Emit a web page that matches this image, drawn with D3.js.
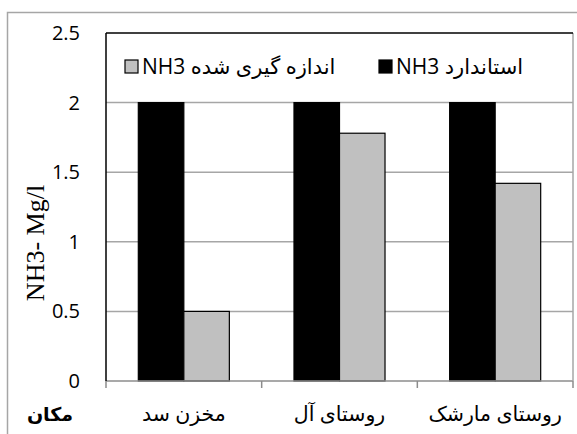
<!DOCTYPE html>
<html>
<head>
<meta charset="utf-8">
<script src="https://cdn.jsdelivr.net/npm/d3@7"></script>
<style>
body { margin: 0; background: #fff; }
</style>
</head>
<body>
<svg width="577" height="434"></svg>
<script>
var svg = d3.select('svg')

var categories = ["مخزن سد", "روستای آل", "روستای مارشک"]
var standard = [2, 2, 2]
var measured = [0.5, 1.78, 1.42]
var seriesNames = ["استاندارد NH3", "اندازه گیری شده NH3"]
var yTicks = [0, 0.5, 1, 1.5, 2, 2.5]

var plotLeft = 106, plotRight = 573, plotTop = 33, plotBottom = 381
var gridColor = '#a6a6a6'
var sans = '"Open Sans", "DejaVu Sans", sans-serif'

var x = d3.scaleBand().domain(categories).range([plotLeft, plotRight])
var x1 = d3.scaleBand().domain([0, 1]).range([0, x.bandwidth()]).paddingOuter(0.71)
var y = d3.scaleLinear().domain([0, 2.5]).range([plotBottom, plotTop])

//outer frame
svg.append('rect')
	.attr('x', 7.5).attr('y', 12.5)
	.attr('width', 600).attr('height', 500)
	.attr('fill', 'none').attr('stroke', gridColor).attr('stroke-width', 1.5)

//gridlines
svg.selectAll('line.grid')
	.data(yTicks.filter(function(d) { return d > 0 && d < 2.5 }))
	.enter().append('line')
	.attr('x1', plotLeft).attr('x2', plotRight)
	.attr('y1', function(d) { return y(d) }).attr('y2', function(d) { return y(d) })
	.attr('stroke', gridColor).attr('stroke-width', 1.5)

//tick labels
svg.selectAll('text.ytick')
	.data(yTicks)
	.enter().append('text')
	.attr('x', 80)
	.attr('y', function(d) { return y(d) + 7 })
	.attr('text-anchor', 'end')
	.attr('font-family', sans)
	.attr('font-size', 20)
	.text(function(d) { return d })

//bars
var rows = categories.map(function(c, i) { return {cat: c, vals: [standard[i], measured[i]]} })
var groups = svg.selectAll('g.cat')
	.data(rows)
	.enter().append('g')
	.attr('transform', function(d) { return 'translate(' + x(d.cat) + ',0)' })
groups.selectAll('rect')
	.data(function(d) { return d.vals })
	.enter().append('rect')
	.attr('x', function(d, i) { return x1(i) })
	.attr('y', function(d) { return y(d) })
	.attr('width', x1.bandwidth())
	.attr('height', function(d) { return plotBottom - y(d) })
	.attr('fill', function(d, i) { return i == 0 ? '#000' : '#c0c0c0' })
	.attr('stroke', '#000').attr('stroke-width', 1.2)

//axis lines
svg.append('line').attr('x1', plotLeft).attr('x2', plotRight).attr('y1', plotBottom).attr('y2', plotBottom)
	.attr('stroke', '#8c8c8c').attr('stroke-width', 1.5)
svg.selectAll('line.xtick')
	.data(categories.map(function(c) { return x(c) }).concat([plotRight]))
	.enter().append('line')
	.attr('x1', function(d) { return d }).attr('x2', function(d) { return d })
	.attr('y1', plotBottom).attr('y2', plotBottom + 7)
	.attr('stroke', '#8c8c8c').attr('stroke-width', 1.5)
svg.append('line').attr('x1', plotRight).attr('x2', plotRight).attr('y1', plotTop).attr('y2', plotBottom)
	.attr('stroke', gridColor).attr('stroke-width', 1.5)
svg.append('line').attr('x1', plotLeft).attr('x2', plotRight).attr('y1', plotTop).attr('y2', plotTop)
	.attr('stroke', '#000').attr('stroke-width', 1.5)
svg.append('line').attr('x1', plotLeft).attr('x2', plotLeft).attr('y1', plotTop).attr('y2', plotBottom)
	.attr('stroke', '#000').attr('stroke-width', 1.5)

//category labels
svg.selectAll('text.xlab')
	.data(categories)
	.enter().append('text')
	.attr('x', function(d) { return x(d) + x.bandwidth()/2 })
	.attr('y', 421)
	.attr('text-anchor', 'middle')
	.attr('font-family', sans)
	.attr('font-size', 20.5)
	.text(function(d) { return d })

svg.append('text')
	.attr('x', 50).attr('y', 421)
	.attr('text-anchor', 'middle')
	.attr('font-family', sans)
	.attr('font-size', 19)
	.attr('font-weight', 'bold')
	.text('مکان')

//y title
svg.append('text')
	.attr('transform', 'translate(44,243) rotate(-90)')
	.attr('text-anchor', 'middle')
	.attr('font-family', '"Liberation Serif", "Times New Roman", serif')
	.attr('font-size', 26)
	.text('NH3- Mg/l')

//legend
var legendX = [379, 125]
var legend = svg.selectAll('g.legend')
	.data(seriesNames)
	.enter().append('g')
	.attr('transform', function(d, i) { return 'translate(' + legendX[i] + ',60)' })
legend.append('rect')
	.attr('width', 13).attr('height', 13)
	.attr('fill', function(d, i) { return i == 0 ? '#000' : '#c0c0c0' })
	.attr('stroke', '#000').attr('stroke-width', 1.2)
legend.append('text')
	.attr('x', 17).attr('y', 14)
	.attr('font-family', sans)
	.attr('font-size', 21)
	.attr('direction', 'rtl')
	.attr('text-anchor', 'end')
	.text(function(d) { return d })
</script>
</body>
</html>
